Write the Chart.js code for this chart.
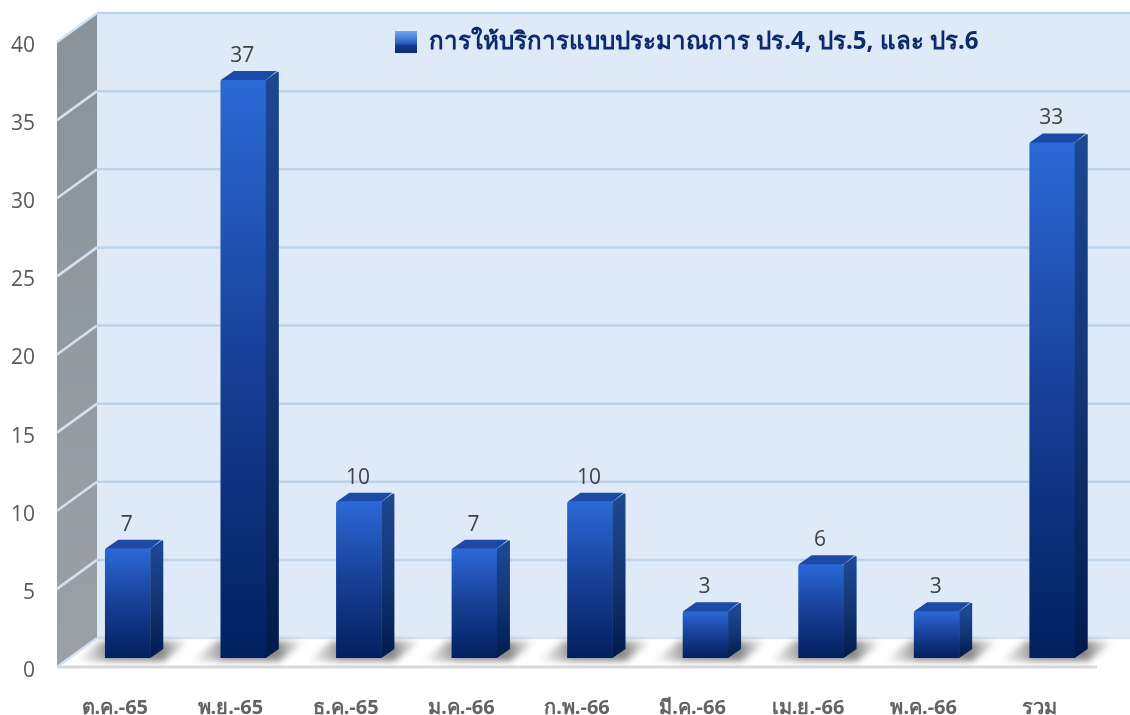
<!DOCTYPE html>
<html>
<head>
<meta charset="utf-8">
<script src="https://cdn.jsdelivr.net/npm/chart.js@4/dist/chart.umd.min.js"></script>
<style>
  html, body { margin: 0; padding: 0; background: #fff; }
  canvas { display: block; }
</style>
</head>
<body>
<canvas id="grafico" width="1130" height="715"></canvas>
<script>
const categories = ['ต.ค.-65', 'พ.ย.-65', 'ธ.ค.-65', 'ม.ค.-66', 'ก.พ.-66', 'มี.ค.-66', 'เม.ย.-66', 'พ.ค.-66', 'รวม'];
const values = [7, 37, 10, 7, 10, 3, 6, 3, 33];
const tickValues = [0, 5, 10, 15, 20, 25, 30, 35, 40];
const seriesName = 'การให้บริการแบบประมาณการ ปร.4, ปร.5, และ ปร.6';

const thaiFont = "'Noto Sans', 'Open Sans', sans-serif";

// profundidade da caixa 3D e da barra
const wallX = 40, wallY = 29;
const barX = 13, barY = 9;

function barGradient(ctx, top, bottom, c1, c2, c3) {
    const g = ctx.createLinearGradient(0, top, 0, bottom);
    g.addColorStop(0, c1);
    g.addColorStop(0.5, c2);
    g.addColorStop(1, c3);
    return g;
}

const box3d = {
    id: 'box3d',
    afterLayout(chart) {
        // legenda fica dentro da parede do fundo, acima da area
        const lg = chart.legend;
        lg.left = 389; lg.right = 1000; lg.top = 24; lg.bottom = 64;
    },
    beforeDraw(chart) {
        const { ctx, chartArea: a, scales: { y } } = chart;
        const y0 = y.getPixelForValue(0), yMax = y.getPixelForValue(40);
        ctx.save();
        // parede do fundo
        ctx.fillStyle = '#deeaf8';
        ctx.fillRect(a.left + wallX, yMax - wallY, chart.width - a.left - wallX, y0 - yMax);
        // piso
        ctx.fillStyle = '#ffffff';
        ctx.beginPath();
        ctx.moveTo(a.left, y0);
        ctx.lineTo(a.right, y0);
        ctx.lineTo(a.right + wallX, y0 - wallY);
        ctx.lineTo(a.left + wallX, y0 - wallY);
        ctx.closePath();
        ctx.fill();
        // parede lateral
        const g = ctx.createLinearGradient(0, yMax, 0, y0);
        g.addColorStop(0, '#8a9399');
        g.addColorStop(1, '#9aa2a8');
        ctx.fillStyle = g;
        ctx.beginPath();
        ctx.moveTo(a.left, yMax);
        ctx.lineTo(a.left + wallX, yMax - wallY);
        ctx.lineTo(a.left + wallX, y0 - wallY);
        ctx.lineTo(a.left, y0);
        ctx.closePath();
        ctx.fill();
        // linhas de grade
        tickValues.forEach(v => {
            const py = y.getPixelForValue(v);
            ctx.lineWidth = 2.5;
            ctx.strokeStyle = '#d3e1f0';
            ctx.beginPath();
            ctx.moveTo(a.left, py);
            ctx.lineTo(a.left + wallX, py - wallY);
            ctx.stroke();
            ctx.strokeStyle = v > 0 ? '#bcd3ea' : '#d5e3f2';
            ctx.beginPath();
            ctx.moveTo(a.left + wallX, py - wallY);
            ctx.lineTo(chart.width, py - wallY);
            ctx.stroke();
        });
        // borda do piso
        ctx.strokeStyle = '#d9d9d9';
        ctx.lineWidth = 3;
        ctx.beginPath();
        ctx.moveTo(a.left, y0);
        ctx.lineTo(a.right, y0);
        ctx.stroke();
        ctx.restore();
    },
    beforeDatasetsDraw(chart) {
        const { ctx } = chart;
        // sombra das barras no piso
        ctx.save();
        ctx.filter = 'blur(3px)';
        chart.getDatasetMeta(0).data.forEach(bar => {
            const left = bar.x - bar.width / 2 + barX, right = bar.x + bar.width / 2 + barX;
            const b = bar.base - barY;
            const g = ctx.createLinearGradient(left - 30, 0, right + 40, 0);
            g.addColorStop(0, 'rgba(130,130,130,0)');
            g.addColorStop(0.3, 'rgba(85,85,85,0.65)');
            g.addColorStop(0.75, 'rgba(85,85,85,0.7)');
            g.addColorStop(1, 'rgba(130,130,130,0)');
            ctx.fillStyle = g;
            ctx.beginPath();
            ctx.moveTo(left - 30, b + 3);
            ctx.lineTo(right + 14, b + 3);
            ctx.lineTo(right + 40, b - 17);
            ctx.lineTo(left - 4, b - 17);
            ctx.closePath();
            ctx.fill();
        });
        ctx.restore();
        ctx.save();
        ctx.translate(barX, -barY);
    },
    afterDatasetsDraw(chart) {
        const { ctx } = chart;
        chart.getDatasetMeta(0).data.forEach((bar, i) => {
            const left = bar.x - bar.width / 2, right = bar.x + bar.width / 2;
            ctx.fillStyle = barGradient(ctx, bar.y, bar.base, '#1c4791', '#123473', '#011a4c');
            ctx.beginPath();
            ctx.moveTo(right, bar.y);
            ctx.lineTo(right + barX - 2, bar.y - barY + 1);
            ctx.quadraticCurveTo(right + barX, bar.y - barY, right + barX, bar.y - barY + 2);
            ctx.lineTo(right + barX, bar.base - barY);
            ctx.lineTo(right, bar.base);
            ctx.closePath();
            ctx.fill();
            ctx.fillStyle = '#1b4ba6';
            ctx.beginPath();
            ctx.moveTo(left, bar.y);
            ctx.lineTo(left + barX, bar.y - barY);
            ctx.lineTo(right + barX - 2, bar.y - barY);
            ctx.lineTo(right, bar.y);
            ctx.closePath();
            ctx.fill();
            // rotulo de valor
            ctx.fillStyle = '#404040';
            ctx.font = "21px 'Open Sans', sans-serif";
            ctx.textAlign = 'center';
            ctx.textBaseline = 'middle';
            ctx.fillText(values[i], bar.x - 1, bar.y - 24);
        });
        ctx.restore();
    }
};

const canvas = document.getElementById('grafico');
const ctx = canvas.getContext('2d');

new Chart(ctx, {
    type: 'bar',
    plugins: [box3d],
    data: {
        labels: categories,
        datasets: [{
            label: seriesName,
            data: values,
            barThickness: 45,
            borderRadius: { topLeft: 2, topRight: 2 },
            backgroundColor: function(context) {
                const y = context.chart.scales.y;
                if (!y || !context.parsed) return '#1c4fb0';
                return barGradient(context.chart.ctx, y.getPixelForValue(context.parsed.y), y.getPixelForValue(0),
                    '#2b69d6', '#173f96', '#02205f');
            }
        }]
    },
    options: {
        responsive: false,
        animation: false,
        layout: { padding: { top: 42, right: 33, left: 0, bottom: 0 } },
        plugins: {
            tooltip: { enabled: false },
            legend: {
                position: 'chartArea',
                align: 'start',
                labels: {
                    boxWidth: 22,
                    boxHeight: 22,
                    padding: 6,
                    font: { family: thaiFont, size: 24.1, weight: 'bold' },
                    generateLabels: function(chart) {
                        const fill = chart.ctx.createLinearGradient(0, 32, 0, 57);
                        fill.addColorStop(0, '#6aa3ee');
                        fill.addColorStop(0.45, '#2a5fc0');
                        fill.addColorStop(0.55, '#123a8c');
                        fill.addColorStop(1, '#0a2560');
                        return [{
                            text: seriesName,
                            fillStyle: fill,
                            strokeStyle: '#0a2a6e',
                            fontColor: '#0c2a6c',
                            lineWidth: 0,
                            datasetIndex: 0
                        }];
                    }
                }
            }
        },
        scales: {
            x: {
                grid: { display: false },
                border: { display: false },
                afterFit: s => { s.height = 48; },
                ticks: {
                    color: '#636363',
                    padding: 21,
                    maxRotation: 0,
                    font: { family: thaiFont, size: 20, weight: 'bold' }
                }
            },
            y: {
                min: 0,
                max: 40,
                grid: { display: false },
                border: { display: false },
                afterFit: s => { s.width = 57; },
                ticks: {
                    stepSize: 5,
                    color: '#595959',
                    padding: 14,
                    labelOffset: 4,
                    font: { family: "'Open Sans', sans-serif", size: 21 }
                }
            }
        }
    }
});
</script>
</body>
</html>
